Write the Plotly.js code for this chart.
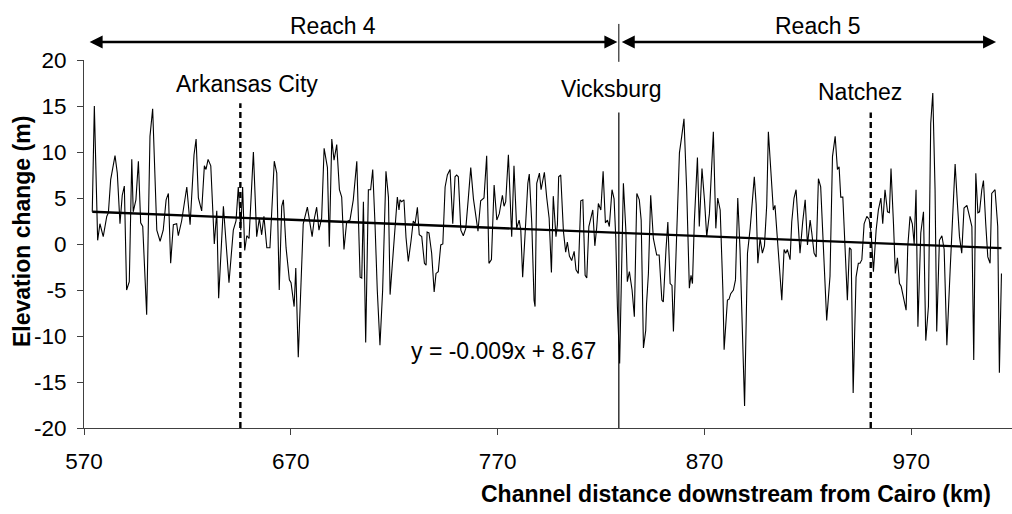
<!DOCTYPE html>
<html>
<head>
<meta charset="utf-8">
<script src="https://cdn.plot.ly/plotly-3.0.1.min.js"></script>
<style>html,body{margin:0;padding:0;background:#fff;}#chart{width:1012px;height:514px;}</style>
</head>
<body>
<div id="chart"></div>
<script>
// Channel distance downstream from Cairo (km)
const distKm = [574.0,575.0,576.6,577.7,579.3,581.0,581.8,582.9,585.0,586.1,587.4,588.5,589.5,590.6,591.9,593.1,593.8,595.1,596.3,597.4,598.4,600.3,601.9,603.2,605.2,606.8,608.3,609.7,610.8,611.9,613.2,614.8,615.6,617.2,619.7,621.3,623.2,624.2,625.3,626.9,628.2,629.0,630.0,631.3,633.0,634.2,635.1,637.4,640.1,642.2,643.5,644.6,645.8,646.7,647.7,648.7,649.8,651.9,653.5,654.8,655.9,657.0,658.4,659.9,662.0,663.2,664.4,665.6,666.4,667.7,669.3,670.1,671.6,672.4,673.6,676.0,678.0,679.3,680.3,681.4,682.5,683.6,684.9,686.1,687.7,688.6,689.8,690.9,692.2,693.5,694.6,695.7,697.0,698.6,700.2,701.9,703.5,704.3,705.1,706.2,707.5,708.6,709.6,710.7,711.8,713.1,714.4,716.0,717.2,718.0,719.3,720.4,721.5,722.3,722.8,723.6,724.7,725.7,726.8,728.1,729.2,730.1,731.2,732.1,733.3,734.6,735.4,735.9,736.8,738.1,739.3,740.2,741.3,742.5,743.5,744.6,745.7,747.0,748.3,749.4,750.2,751.0,752.2,753.4,754.6,755.8,757.0,758.3,759.4,760.5,761.8,763.4,764.7,765.8,767.0,768.3,769.6,770.8,772.3,773.1,773.9,775.2,776.8,777.9,779.2,780.4,781.2,782.1,783.3,784.6,785.3,786.5,787.6,788.1,788.9,790.2,791.0,791.8,792.6,793.7,794.9,796.0,796.9,798.2,798.9,799.5,800.5,801.8,802.9,803.7,804.7,805.8,807.0,807.9,809.0,810.2,811.2,812.3,813.1,814.1,815.0,816.0,817.0,817.9,818.7,819.9,821.0,822.1,823.1,824.0,825.3,826.3,827.1,827.9,829.0,830.8,832.0,832.7,833.7,835.0,836.1,837.3,838.5,839.4,840.5,841.6,842.0,842.9,844.0,845.3,846.9,848.1,849.4,850.1,851.4,852.3,853.4,854.3,855.0,856.6,857.9,859.0,860.1,861.4,862.7,863.5,864.2,865.1,866.6,867.5,868.8,870.0,871.1,872.4,874.3,875.5,876.4,877.6,878.9,879.5,881.1,881.9,882.7,884.0,885.0,886.1,887.2,889.4,890.8,892.1,893.4,894.1,895.0,895.8,896.9,898.0,899.0,900.1,900.9,902.5,903.3,904.1,905.3,906.6,907.4,908.5,909.3,910.1,911.4,912.2,913.3,914.3,915.4,916.2,917.5,918.7,919.8,921.1,921.9,923.0,924.0,925.1,926.2,927.5,929.1,930.7,931.9,933.2,934.3,935.1,935.9,936.9,938.0,939.1,940.1,940.9,941.9,943.3,944.4,945.2,946.1,947.2,948.5,949.6,950.6,951.7,953.0,954.1,955.3,956.2,957.3,958.5,959.4,960.2,961.4,962.3,963.3,964.3,965.1,966.2,967.5,968.3,969.4,970.5,971.4,972.3,973.2,974.6,975.9,977.0,978.3,979.4,980.4,981.5,982.3,983.6,984.8,985.9,987.2,988.8,990.1,991.2,992.3,993.3,994.4,995.5,996.9,998.0,999.3,1000.2,1001.2,1002.2,1003.0,1004.1,1004.9,1006.0,1007.0,1008.1,1008.9,1010.5,1011.8,1012.6,1013.6];
// Elevation change (m)
const elevM = [3.5,15.0,0.4,2.2,0.8,3.0,3.4,7.0,9.6,7.7,2.2,5.3,6.3,-5.0,-4.1,9.2,3.5,4.8,9.0,2.3,1.9,-7.7,11.7,14.7,1.5,0.3,1.5,4.8,5.5,-2.1,2.1,2.2,0.9,2.5,6.2,2.1,9.7,11.4,5.0,3.6,8.5,8.1,9.2,8.5,0.0,3.6,-5.9,4.1,-4.2,1.5,2.5,6.2,1.5,6.2,-0.7,0.9,0.6,10.0,0.8,2.8,1.0,3.0,-0.4,-0.4,9.0,7.7,-5.0,4.1,4.8,-0.4,-3.9,-4.2,-6.8,-2.6,-12.3,2.2,4.0,1.9,0.8,2.8,4.0,1.5,2.8,10.4,8.3,-0.3,11.4,9.1,10.8,5.9,5.1,-0.6,2.4,2.6,4.8,9.0,-3.6,-3.7,4.6,-10.7,5.9,5.9,8.1,2.2,-5.0,-11.0,-5.0,7.9,5.1,-5.5,-1.3,2.4,5.1,3.7,4.8,4.6,4.8,0.7,-1.9,0.3,2.5,2.2,4.0,1.0,0.8,-2.1,-2.3,1.3,1.2,-1.0,-5.2,-3.2,-3.0,-0.1,0.0,6.2,7.5,8.1,2.2,7.3,7.5,7.3,1.5,0.9,1.7,4.9,8.3,4.9,3.0,1.4,4.7,5.0,9.6,-2.1,-1.7,6.4,2.6,3.3,5.3,4.1,4.6,9.7,0.8,8.5,1.7,2.6,1.5,-3.6,1.2,6.6,7.6,2.3,-6.1,-6.8,6.6,7.7,5.9,7.0,7.8,5.1,2.8,-3.1,5.2,0.8,2.1,7.3,7.5,1.4,-0.9,0.2,-1.3,-1.8,-0.8,-2.8,-3.2,4.7,4.8,-3.4,-3.7,1.9,2.9,3.7,-0.2,1.8,4.4,3.7,7.9,2.3,2.6,1.9,5.9,4.9,0.8,-6.8,-13.0,6.6,1.5,-4.1,-3.0,-5.0,-7.9,5.5,4.8,2.6,-11.3,-9.4,-6.5,-3.2,5.3,0.6,-1.2,-1.2,-6.1,-6.3,-0.6,2.4,-4.3,-4.5,-9.5,0.1,9.9,11.7,13.6,5.9,-4.8,-3.4,-4.3,2.4,9.4,1.9,8.2,4.8,0.8,3.3,12.2,1.7,5.0,3.7,-5.0,-11.5,-6.1,-6.0,-5.4,-5.0,-3.9,5.0,-0.6,-17.6,-1.0,1.7,5.6,7.3,4.3,-2.1,0.6,-1.0,-0.2,4.2,12.2,5.9,3.7,4.2,0.3,-2.8,-6.1,-0.6,-1.0,-0.6,-1.7,2.4,5.0,5.9,2.4,-1.0,2.4,4.8,-0.1,2.6,1.2,-1.0,-1.4,7.1,6.2,-0.6,-8.3,-3.5,9.5,11.7,8.1,8.4,5.1,5.1,-0.6,-6.1,-0.4,-0.6,-16.2,-3.6,-2.1,-2.1,-1.7,2.2,3.0,2.7,1.2,-3.0,1.5,3.7,5.0,2.2,5.9,3.5,3.4,8.2,2.2,-3.2,-1.5,-4.3,-4.6,-5.9,-7.2,-0.3,3.0,2.2,0.0,5.9,-9.0,1.2,3.5,-10.5,-6.8,13.1,16.4,5.9,-9.5,0.4,0.9,-0.6,-11.0,-2.8,4.1,8.7,4.4,0.8,-1.0,3.9,4.2,3.0,1.9,-12.6,7.7,3.4,3.5,5.9,6.9,2.2,-1.4,-2.1,5.5,5.9,1.9,-14.0,-3.2];

// Linear trend shown on chart: y = -0.009x + 8.67
const trendSlope = -0.009;
const trendIntercept = 8.67;
const trendX = [distKm[0], distKm[distKm.length - 1]];
const trendY = trendX.map(x => trendSlope * x + trendIntercept);

const xTicks = [570, 670, 770, 870, 970];
const yTicks = [-20, -15, -10, -5, 0, 5, 10, 15, 20];

// Landmarks (km)
const placeNames = ['Arkansas City', 'Vicksburg', 'Natchez'];
const placeKm = [645.6, 828.6, 950.4];
const reachNames = ['Reach 4', 'Reach 5'];
const reachStartKm = [572.0, 828.6];
const reachEndKm = [828.6, 1011.0];

const FONT = 'Arial, "Liberation Sans", sans-serif';
const xRange = [570, 1018.7];
const TXT = {family: FONT, size: 23, color: '#000'};

const traces = [
  {x: distKm, y: elevM, type: 'scatter', mode: 'lines', line: {color: '#000', width: 1.1}, hoverinfo: 'skip'},
  {x: trendX, y: trendY, type: 'scatter', mode: 'lines', line: {color: '#000', width: 2.3}, hoverinfo: 'skip'}
];

const shapes = [
  {type: 'line', xref: 'x', yref: 'y', x0: placeKm[0], x1: placeKm[0], y0: -20, y1: 15.3, line: {color: '#000', width: 2.4, dash: '6px,4px'}},
  {type: 'line', xref: 'x', yref: 'y', x0: placeKm[1], x1: placeKm[1], y0: -20, y1: 14.3, line: {color: '#000', width: 1.2}},
  {type: 'line', xref: 'x', yref: 'y', x0: placeKm[2], x1: placeKm[2], y0: -20, y1: 14.3, line: {color: '#000', width: 2.4, dash: '6px,4px'}},
  // divider at Vicksburg between the reach arrows (above plot)
  {type: 'line', xref: 'x', yref: 'paper', x0: placeKm[1], x1: placeKm[1], y0: 0.995, y1: 1.098, line: {color: '#000', width: 1}}
];

function reachArrow(x0, x1) {
  return {xref: 'x', yref: 'paper', axref: 'x', ayref: 'pixel', x: x1, y: 1.0489, ax: x0, ay: 0,
    text: '', showarrow: true, arrowside: 'end+start', arrowhead: 2, startarrowhead: 2,
    arrowsize: 1, startarrowsize: 1, arrowwidth: 2.6, arrowcolor: '#000', standoff: 0, startstandoff: 0};
}

const annotations = [
  reachArrow(reachStartKm[0], reachEndKm[0] - 0.7),
  reachArrow(reachStartKm[1] + 0.7, reachEndKm[1]),
  {xref: 'x', yref: 'paper', x: 690.5, y: 1.0924, xanchor: 'center', yanchor: 'middle', text: reachNames[0], showarrow: false, font: TXT},
  {xref: 'x', yref: 'paper', x: 925, y: 1.0924, xanchor: 'center', yanchor: 'middle', text: reachNames[1], showarrow: false, font: TXT},
  {xref: 'x', yref: 'y', x: 649, y: 17.4, xanchor: 'center', yanchor: 'middle', text: placeNames[0], showarrow: false, font: TXT},
  {xref: 'x', yref: 'y', x: 825, y: 16.8, xanchor: 'center', yanchor: 'middle', text: placeNames[1], showarrow: false, font: TXT},
  {xref: 'x', yref: 'y', x: 945, y: 16.5, xanchor: 'center', yanchor: 'middle', text: placeNames[2], showarrow: false, font: TXT},
  {xref: 'x', yref: 'y', x: 772.6, y: -11.6, xanchor: 'center', yanchor: 'middle', text: 'y = -0.009x + 8.67', showarrow: false, font: TXT},
  // axis titles
  {xref: 'paper', yref: 'paper', x: 0.703, y: -0.179, xanchor: 'center', yanchor: 'middle',
   text: '<b>Channel distance downstream from Cairo (km)</b>', showarrow: false, font: TXT},
  {xref: 'paper', yref: 'paper', x: -0.0668, y: 0.5326, xanchor: 'center', yanchor: 'middle',
   text: '<b>Elevation change (m)</b>', textangle: -90, showarrow: false, font: TXT}
];

const layout = {
  width: 1012, height: 514,
  margin: {l: 84, r: 0, t: 60, b: 86, pad: 0},
  paper_bgcolor: '#fff', plot_bgcolor: '#fff',
  showlegend: false,
  font: TXT,
  xaxis: {
    range: xRange, tickvals: xTicks, ticktext: xTicks.map(String),
    showgrid: false, zeroline: false, showline: true, linecolor: '#404040', linewidth: 1,
    ticks: 'outside', ticklen: 6, tickcolor: '#404040', tickwidth: 1,
    tickfont: {family: FONT, size: 22.5, color: '#000'}, ticklabelstandoff: 7
  },
  yaxis: {
    range: [-20, 20], tickvals: yTicks, ticktext: yTicks.map(String),
    showgrid: false, zeroline: false, showline: true, linecolor: '#404040', linewidth: 1,
    ticks: 'outside', ticklen: 6, tickcolor: '#404040', tickwidth: 1,
    tickfont: {family: FONT, size: 22.5, color: '#000'}, ticklabelstandoff: 6
  },
  shapes: shapes,
  annotations: annotations
};

Plotly.newPlot('chart', traces, layout, {staticPlot: true, displayModeBar: false});
</script>
</body>
</html>
